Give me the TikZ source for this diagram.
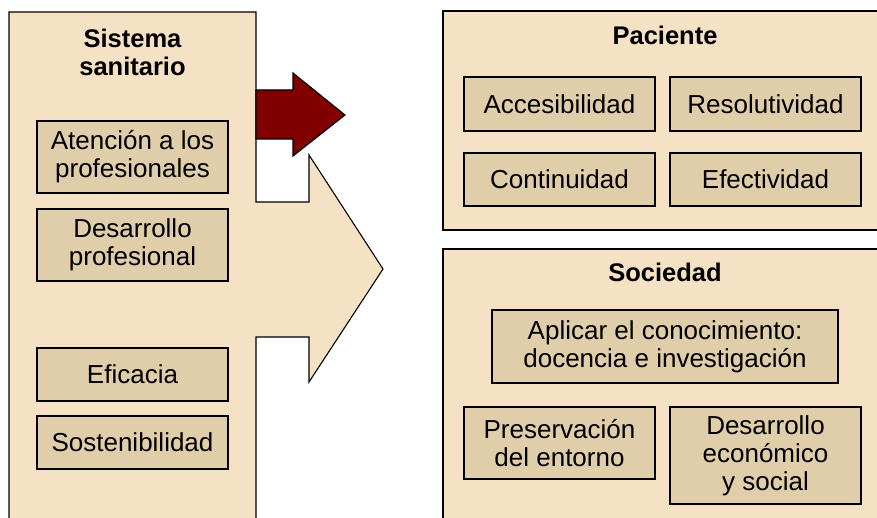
\documentclass[tikz,border=0pt]{standalone}
\usepackage{fontspec}
\setmainfont{Liberation Sans}
\definecolor{panelbeige}{RGB}{245, 225, 195}
\definecolor{itembeige}{RGB}{224, 206, 170}
\definecolor{arrowred}{RGB}{128, 0, 0}
\usetikzlibrary{positioning, calc}

\tikzset{
  panel/.style={draw=black, fill=panelbeige, line width=1.1pt},
  item/.style={draw=black, fill=itembeige, line width=1.5pt, align=center,
    inner sep=0pt, font=\fontsize{26}{28}\selectfont},
  ttl/.style={align=center, font=\fontsize{25.5}{28}\selectfont\bfseries}
}

\begin{document}
\begin{tikzpicture}[x=1pt, y=-1pt]
  \useasboundingbox (0,0) rectangle (877,518);
  \clip (0,0) rectangle (877,518);

  % left panel with its big arrow
  \draw[panel] (9,560) -- (9,12) -- (256,12) -- (256,202) -- (309,202) -- (309,155)
    -- (383,269) -- (309,382) -- (309,337) -- (256,337) -- (256,560) -- cycle;
  % small red arrow
  \draw[fill=arrowred, line width=1.1pt] (256,90) -- (293,90) -- (293,73) -- (345,115)
    -- (293,156) -- (293,139) -- (256,139) -- cycle;

  % right panels
  \draw[panel] (443,11) rectangle (900,230);
  \draw[panel] (443,249) rectangle (900,560);

  % titles
  \node[ttl] (sistema) at (132.5,52) {Sistema\\sanitario};
  \node[ttl, anchor=base] (paciente) at (665,45) {Paciente};
  \node[ttl, anchor=base] (sociedad) at (665,282) {Sociedad};

  % sistema sanitario
  \node[item, minimum width=191pt, minimum height=72pt] (atencion) at (132.5,157) {Atención a los\\profesionales};
  \node[item, minimum width=191pt, minimum height=72pt] (desprof) at (132.5,245) {Desarrollo\\profesional};
  \node[item, minimum width=191pt, minimum height=53pt] (eficacia) at (132.5,374.5) {Eficacia};
  \node[item, minimum width=191pt, minimum height=53pt] (sosten) at (132.5,442.5) {Sostenibilidad};

  % paciente
  \node[item, minimum width=191pt, minimum height=54pt] (acces) at (559.5,104) {Accesibilidad};
  \node[item, minimum width=191pt, minimum height=54pt] (resol) at (765.5,104) {Resolutividad};
  \node[item, minimum width=191pt, minimum height=53pt] (contin) at (559.5,179.5) {Continuidad};
  \node[item, minimum width=191pt, minimum height=53pt] (efect) at (765.5,179.5) {Efectividad};

  % sociedad
  \node[item, minimum width=346pt, minimum height=73pt] (aplicar) at (665,346.5) {Aplicar el conocimiento:\\docencia e investigación};
  \node[item, minimum width=191pt, minimum height=72pt] (preserv) at (559.5,443) {Preservación\\del entorno};
  \node[item, minimum width=191pt, minimum height=97pt] (desecon) at (765.5,455.5) {Desarrollo\\económico\\y social};
\end{tikzpicture}
\end{document}
